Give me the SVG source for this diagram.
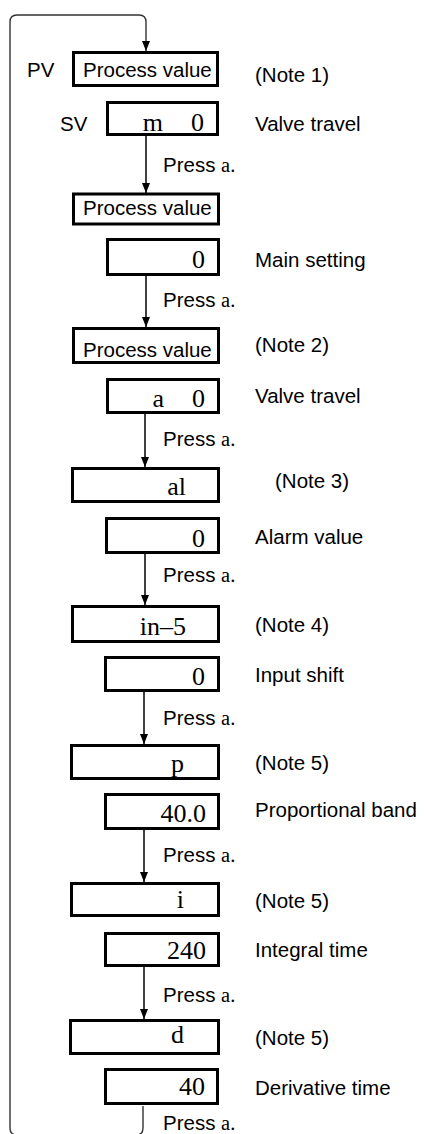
<svg xmlns="http://www.w3.org/2000/svg" width="424" height="1134" viewBox="0 0 424 1134">
<style>
.box{fill:#fff;stroke:#000;stroke-width:3}
.line{fill:none;stroke:#000;stroke-width:1.5}
.loop{fill:none;stroke:#333;stroke-width:1.4}
.sans{font-family:"Liberation Sans",Arial,sans-serif;font-size:20.5px;fill:#000}
.serif{font-family:"Liberation Serif","Times New Roman",serif;font-size:26px;fill:#000}
.ser{font-family:"Liberation Serif","Times New Roman",serif}
.end{text-anchor:end}
</style>
<defs>
<marker id="arr" viewBox="0 0 10 8" refX="10" refY="4" markerWidth="10" markerHeight="8" markerUnits="userSpaceOnUse" orient="auto">
<path d="M0,0 L10,4 L0,8 z" fill="#000"/>
</marker>
</defs>
<g id="connectors">
<path class="loop" d="M143,1106 V1128 Q143,1135 136,1135 H17 Q10,1135 10,1128 V22 Q10,15 17,15 H139 Q146,15 146,22 V51" marker-end="url(#arr)"/>
<path class="line" d="M146,136 V193" marker-end="url(#arr)"/>
<path class="line" d="M146,276 V327" marker-end="url(#arr)"/>
<path class="line" d="M145,414 V467" marker-end="url(#arr)"/>
<path class="line" d="M145,554 V605" marker-end="url(#arr)"/>
<path class="line" d="M144,692 V744" marker-end="url(#arr)"/>
<path class="line" d="M144,830 V882" marker-end="url(#arr)"/>
<path class="line" d="M144,967 V1019" marker-end="url(#arr)"/>
<text class="sans" x="163" y="172">Press <tspan class="ser">a.</tspan></text>
<text class="sans" x="163" y="307">Press <tspan class="ser">a.</tspan></text>
<text class="sans" x="163" y="446">Press <tspan class="ser">a.</tspan></text>
<text class="sans" x="163" y="582">Press <tspan class="ser">a.</tspan></text>
<text class="sans" x="163" y="725">Press <tspan class="ser">a.</tspan></text>
<text class="sans" x="163" y="862">Press <tspan class="ser">a.</tspan></text>
<text class="sans" x="163" y="1002">Press <tspan class="ser">a.</tspan></text>
<text class="sans" x="163" y="1130">Press <tspan class="ser">a.</tspan></text>
</g>
<g id="n1">
<rect class="box" x="73.5" y="52.5" width="144" height="33"/>
<text class="sans" x="83" y="77">Process value</text>
<text class="sans" x="27" y="77">PV</text>
<text class="sans" x="255" y="82">(Note 1)</text>
</g>
<g id="n2">
<rect class="box" x="107.5" y="102.5" width="110" height="32"/>
<text class="serif end" x="163" y="131">m</text>
<text class="serif end" x="204" y="131">0</text>
<text class="sans" x="60" y="131">SV</text>
<text class="sans" x="255" y="131">Valve travel</text>
</g>
<g id="n3">
<rect class="box" x="73.5" y="194" width="145" height="30"/>
<text class="sans" x="83" y="215">Process value</text>
</g>
<g id="n4">
<rect class="box" x="107.5" y="239.5" width="111" height="35"/>
<text class="serif end" x="205" y="268">0</text>
<text class="sans" x="255" y="267">Main setting</text>
</g>
<g id="n5">
<rect class="box" x="73.5" y="328.5" width="145" height="34"/>
<text class="sans" x="83" y="357">Process value</text>
<text class="sans" x="255" y="352">(Note 2)</text>
</g>
<g id="n6">
<rect class="box" x="107.5" y="379.5" width="111" height="33"/>
<text class="serif end" x="164" y="407">a</text>
<text class="serif end" x="205" y="407">0</text>
<text class="sans" x="255" y="403">Valve travel</text>
</g>
<g id="n7">
<rect class="box" x="72.5" y="468.5" width="146" height="33"/>
<text class="serif end" x="186" y="495">al</text>
<text class="sans" x="275" y="488">(Note 3)</text>
</g>
<g id="n8">
<rect class="box" x="106.5" y="518.5" width="112" height="34"/>
<text class="serif end" x="205" y="547">0</text>
<text class="sans" x="255" y="544">Alarm value</text>
</g>
<g id="n9">
<rect class="box" x="72.5" y="606.5" width="146" height="35"/>
<text class="serif end" x="186" y="635">in–5</text>
<text class="sans" x="255" y="632">(Note 4)</text>
</g>
<g id="n10">
<rect class="box" x="105.5" y="657.5" width="113" height="33"/>
<text class="serif end" x="205" y="685">0</text>
<text class="sans" x="255" y="682">Input shift</text>
</g>
<g id="n11">
<rect class="box" x="71.5" y="745.5" width="147" height="33"/>
<text class="serif end" x="184" y="772">p</text>
<text class="sans" x="255" y="770">(Note 5)</text>
</g>
<g id="n12">
<rect class="box" x="105.5" y="794.5" width="113" height="34"/>
<text class="serif end" x="206" y="822">40.0</text>
<text class="sans" x="255" y="817">Proportional band</text>
</g>
<g id="n13">
<rect class="box" x="71.5" y="883.5" width="147" height="32"/>
<text class="serif end" x="184" y="908">i</text>
<text class="sans" x="255" y="908">(Note 5)</text>
</g>
<g id="n14">
<rect class="box" x="105.5" y="933.5" width="113" height="32"/>
<text class="serif end" x="206" y="959">240</text>
<text class="sans" x="255" y="957">Integral time</text>
</g>
<g id="n15">
<rect class="box" x="70.5" y="1020.5" width="148" height="33"/>
<text class="serif end" x="184" y="1043">d</text>
<text class="sans" x="255" y="1045">(Note 5)</text>
</g>
<g id="n16">
<rect class="box" x="105.5" y="1069.5" width="112" height="34"/>
<text class="serif end" x="205" y="1095">40</text>
<text class="sans" x="255" y="1095">Derivative time</text>
</g>
</svg>
